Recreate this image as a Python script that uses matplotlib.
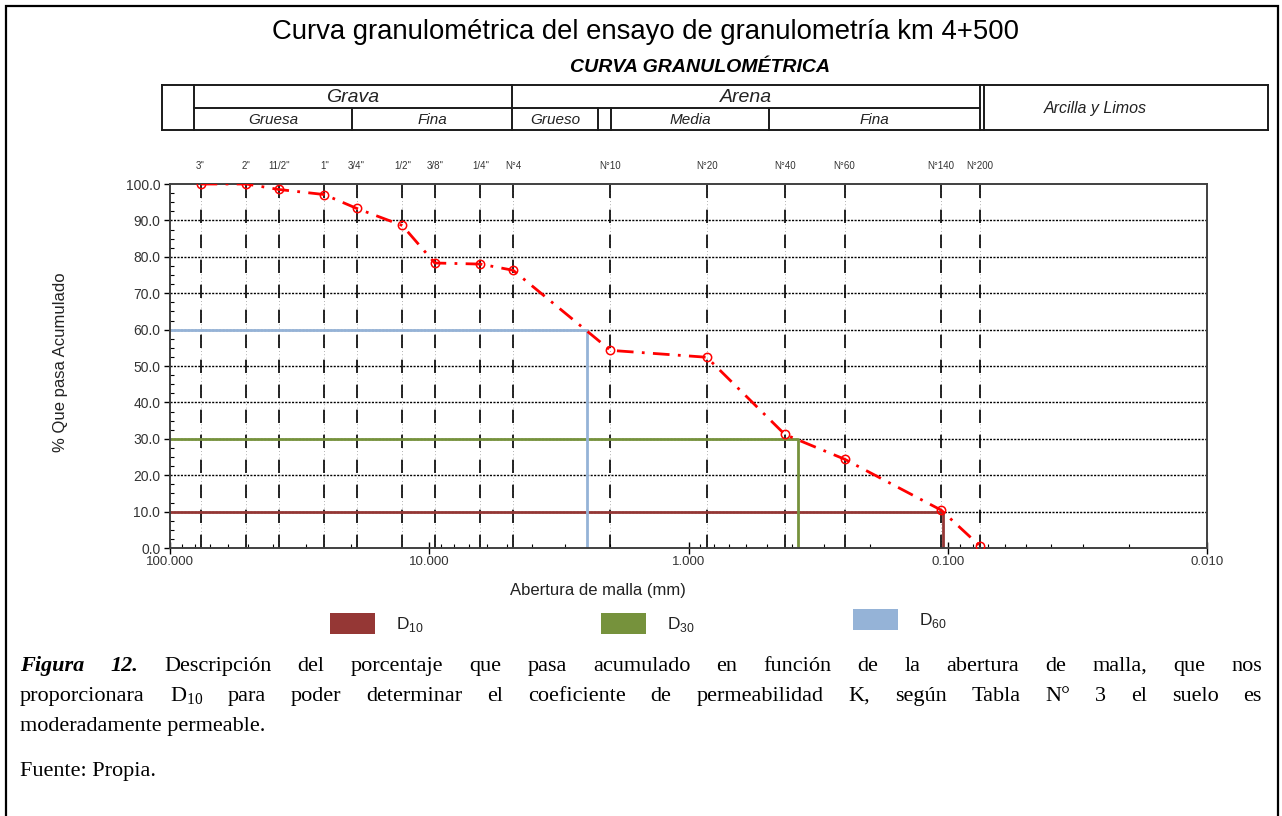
import matplotlib
matplotlib.use('Agg')
import numpy as np
import matplotlib.pyplot as plt
from matplotlib.patches import Rectangle
from matplotlib.lines import Line2D
from matplotlib.ticker import FixedLocator, MultipleLocator, LogLocator, NullFormatter, FormatStrFormatter

plt.rcParams['font.family'] = ['Liberation Sans', 'DejaVu Sans']
plt.rcParams['mathtext.fontset'] = 'custom'
plt.rcParams['mathtext.rm'] = 'Liberation Serif'
plt.rcParams['mathtext.sf'] = 'Liberation Sans'

# data
sieve_labels = ['3"', '2"', '11/2"', '1"', '3/4"', '1/2"', '3/8"', '1/4"', 'N°4',
                'N°10', 'N°20', 'N°40', 'N°60', 'N°140', 'N°200']
sieve_mm = [76.2, 50.8, 38.1, 25.4, 19.05, 12.7, 9.525, 6.35, 4.75,
            2.0, 0.85, 0.425, 0.25, 0.106, 0.075]
passing = [100.0, 100.0, 98.5, 97.1, 93.3, 88.6, 78.3, 78.0, 76.3,
           54.3, 52.4, 31.2, 24.4, 10.4, 0.5]
d_names = ['D10', 'D30', 'D60']
d_pct = [10, 30, 60]
d_mm = [0.104, 0.378, 2.47]
d_colors = ['#953735', '#76923C', '#95B3D7']

W, H = 1282, 816
fig = plt.figure(figsize=(W / 100, H / 100), dpi=100)


def fx(x):
    return x / W


def fy(y):
    return 1 - y / H


def fline(x0, y0, x1, y1, lw=1.4, color='#1a1a1a'):
    fig.add_artist(Line2D([fx(x0), fx(x1)], [fy(y0), fy(y1)],
                          transform=fig.transFigure, color=color, lw=lw))


# outer frame
fig.add_artist(Rectangle((fx(6), -0.02), fx(1278) - fx(6), fy(6) + 0.02,
                         transform=fig.transFigure, fill=False, lw=1.6,
                         edgecolor='black'))

fig.text(fx(645), fy(32), 'Curva granulométrica del ensayo de granulometría km 4+500',
         ha='center', va='center', fontsize=19.8)
fig.text(fx(700), fy(68), 'CURVA GRANULOMÉTRICA', ha='center', va='center',
         fontsize=14, fontweight='bold', fontstyle='italic')

# classification table
t0, tm, t1 = 85, 108, 130
fline(162, t0, 1268, t0)
fline(162, t1, 1268, t1)
fline(194, tm, 980, tm)
for xv in [162, 194, 512, 980, 984, 1268]:
    fline(xv, t0, xv, t1)
for xv in [352, 598, 611, 769]:
    fline(xv, tm, xv, t1)
for txt, xc, yc, fs in [('Grava', 353, 97, 14), ('Arena', 746, 97, 14),
                        ('Gruesa', 273, 120, 11), ('Fina', 432, 120, 11),
                        ('Grueso', 555, 120, 11), ('Media', 690, 120, 11),
                        ('Fina', 874, 120, 11), ('Arcilla y Limos', 1095, 108, 11.5)]:
    fig.text(fx(xc), fy(yc), txt, ha='center', va='center', fontsize=fs,
             fontstyle='italic', color='#222222')

# main axes
ax = fig.add_axes([fx(170), fy(548), fx(1207) - fx(170), fy(184) - fy(548)])
ax.set_xscale('log')
ax.set_xlim(100, 0.01)
ax.set_ylim(0, 100)

for yv in range(10, 100, 10):
    ax.axhline(yv, color='black', lw=1.0, ls=(0, (1.5, 1)), zorder=1)
for s in sieve_mm:
    ax.axvline(s, color='#999999', lw=0.6, ls=(0, (1, 3)), zorder=1)
    ax.axvline(s, color='black', lw=1.2, ls=(0, (8, 7)), zorder=1)

for name, pct, dm, col in zip(d_names, d_pct, d_mm, d_colors):
    ax.plot([100, dm, dm], [pct, pct, 0], color=col, lw=2, zorder=2)

ax.plot(sieve_mm, passing, color='red', lw=2, ls=(0, (6, 3, 1, 3)),
        marker='o', mfc='none', mec='red', ms=6, mew=1.1, zorder=3)

for lab, s in zip(sieve_labels, sieve_mm):
    ax.text(s, 104.9, lab, ha='center', va='center', fontsize=7,
            color='#333333', clip_on=False)

for sp in ax.spines.values():
    sp.set_color('#404040')
    sp.set_linewidth(1.4)

ax.yaxis.set_major_locator(MultipleLocator(10))
ax.yaxis.set_minor_locator(MultipleLocator(2.5))
ax.yaxis.set_major_formatter(FormatStrFormatter('%.1f'))
ax.tick_params(axis='y', which='major', direction='out', length=4, width=1,
               labelsize=10, labelcolor='#333333', pad=3)
ax.tick_params(axis='y', which='minor', direction='in', length=3, width=0.8)

ax.xaxis.set_major_locator(FixedLocator([100, 10, 1, 0.1, 0.01]))
ax.xaxis.set_major_formatter(FormatStrFormatter('%.3f'))
ax.xaxis.set_minor_locator(LogLocator(base=10, subs=np.arange(2, 10)))
ax.xaxis.set_minor_formatter(NullFormatter())
ax.tick_params(axis='x', which='major', direction='inout', length=8, width=1,
               labelsize=9.5, labelcolor='#333333', pad=2)
ax.tick_params(axis='x', which='minor', direction='in', length=3, width=0.8)

fig.text(fx(60), fy(362), '% Que pasa Acumulado', rotation=90, ha='center',
         va='center', fontsize=12, color='#222222')
fig.text(fx(598), fy(591), 'Abertura de malla (mm)', ha='center', va='center',
         fontsize=12, color='#222222')

# legend boxes
for name, col, x0, y0 in [('10', d_colors[0], 330, 613), ('30', d_colors[1], 601, 613),
                          ('60', d_colors[2], 853, 609)]:
    fig.add_artist(Rectangle((fx(x0), fy(y0 + 21)), fx(45), 21 / H,
                             transform=fig.transFigure, facecolor=col,
                             edgecolor='none'))
    fig.text(fx(x0 + 66), fy(y0 + 12), r'$\mathsf{D}_{\mathsf{%s}}$' % name,
             ha='left', va='center', fontsize=12.5, color='#222222')

# caption, justified line by line
renderer = fig.canvas.get_renderer()
cap_fs = 16
bi = dict(fontweight='bold', fontstyle='italic')
line1 = [('Figura', bi), ('12.', bi)] + [(w, {}) for w in
        'Descripción del porcentaje que pasa acumulado en función de la abertura de malla, que nos'.split()]
line2 = [('proporcionara', {}), (r'$\mathrm{D}_{\mathrm{10}}$', {})] + [(w, {}) for w in
        'para poder determinar el coeficiente de permeabilidad K, según Tabla N° 3 el suelo es'.split()]


def justify(words, ybase, x0=20, x1=1262):
    arts = []
    for w, kw in words:
        t = fig.text(0, fy(ybase), w, ha='left', va='baseline', fontsize=cap_fs,
                     family='Liberation Serif', **kw)
        arts.append(t)
    widths = [a.get_window_extent(renderer).width for a in arts]
    gap = (x1 - x0 - sum(widths)) / (len(arts) - 1)
    xp = x0
    for a, wd in zip(arts, widths):
        a.set_x(fx(xp))
        xp += wd + gap


justify(line1, 671)
justify(line2, 701)
fig.text(fx(20), fy(731), 'moderadamente permeable.', ha='left', va='baseline',
         fontsize=cap_fs, family='Liberation Serif')
fig.text(fx(20), fy(776), 'Fuente: Propia.', ha='left', va='baseline',
         fontsize=cap_fs, family='Liberation Serif')

fig.savefig('out.png', dpi=100)
